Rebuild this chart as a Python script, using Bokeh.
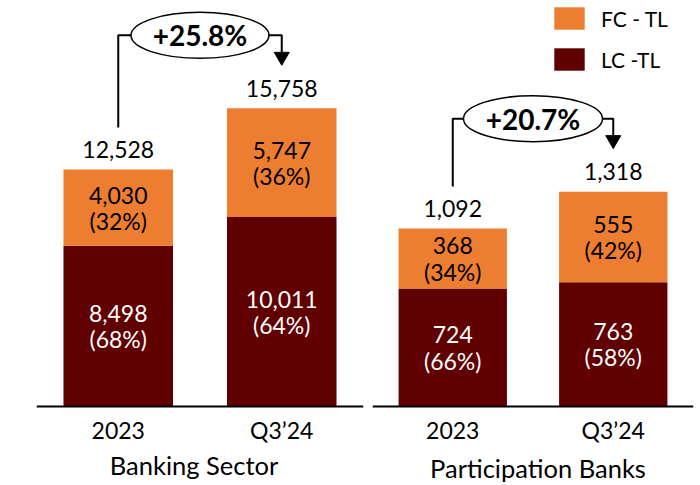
from bokeh.plotting import figure
from bokeh.layouts import row
from bokeh.models import Range1d, FactorRange, ColumnDataSource, Legend, LegendItem
from bokeh.core.properties import value
from bokeh.embed import file_html
from bokeh.resources import INLINE

# ---------------- data ----------------
categories = ["2023", "Q3\u201924"]

bank_lc = [8498, 10011]
bank_fc = [4030, 5747]
bank_total = [12528, 15758]
bank_lc_pct = [68, 64]
bank_fc_pct = [32, 36]
bank_growth = "+25.8%"

part_lc = [724, 763]
part_fc = [368, 555]
part_total = [1092, 1318]
part_lc_pct = [66, 58]
part_fc_pct = [34, 42]
part_growth = "+20.7%"

panel_titles = ["Banking Sector", "Participation Banks"]
series_names = ["FC - TL", "LC -TL"]

# ---------------- style ----------------
ORANGE = "#ED7D31"
MAROON = "#600000"
FONT = "Lato"
FIG_H = 485
AXIS_Y = 406          # screen y of the baseline
BELOW = FIG_H - AXIS_Y


def panel(lc, fc, total, lc_pct, fc_pct, growth, title, ppu, width,
          border_left, border_right, bar_w, ell_w, title_px, title_dx):
    u = lambda px: px / ppu  # screen px -> data units
    p = figure(x_range=FactorRange(*categories),
               y_range=Range1d(-BELOW / ppu, AXIS_Y / ppu),
               width=width, height=FIG_H, output_backend="svg", toolbar_location=None,
               y_axis_location=None, min_border_left=border_left,
               min_border_right=border_right, min_border_top=0,
               min_border_bottom=0)
    p.outline_line_color = None
    p.grid.visible = False
    p.background_fill_color = "white"

    src = ColumnDataSource(dict(x=categories, lc=lc, fc=fc))
    rs = p.vbar_stack(["lc", "fc"], x="x", width=bar_w, color=[MAROON, ORANGE],
                      line_color=None, source=src)

    # segment labels
    lc_mid = [v / 2 for v in lc]
    fc_mid = [a + b / 2 for a, b in zip(lc, fc)]
    p.text(x=categories, y=lc_mid,
           text=[f"{v:,}\n({q}%)" for v, q in zip(lc, lc_pct)],
           text_font=value(FONT), text_font_size="23px", text_color="white",
           text_align="center", text_baseline="middle", text_line_height=0.93)
    p.text(x=categories, y=fc_mid,
           text=[f"{v:,}\n({q}%)" for v, q in zip(fc, fc_pct)],
           text_font=value(FONT), text_font_size="23px", text_color="black",
           text_align="center", text_baseline="middle", text_line_height=0.93)
    # totals
    p.text(x=categories, y=[t + u(20) for t in total], text=[f"{t:,}" for t in total],
           text_font=value(FONT), text_font_size="23px", text_color="black",
           text_align="center", text_baseline="middle")

    # growth connector
    yc = max(total) + u(73)
    tip = total[1] + u(43)
    head_c = tip + u(8.7)
    p.line(x=[0.5, 0.5, 1.5, 1.5], y=[total[0] + u(42), yc, yc, head_c],
           line_color="black", line_width=2)
    p.scatter(x=[1.5], y=[head_c], marker="inverted_triangle", size=15,
              fill_color="black", line_color="black")
    p.ellipse(x=[1.0], y=[yc], width=ell_w, height=46, width_units="screen",
              height_units="screen", fill_color="white", line_color="black",
              line_width=1.5)
    p.text(x=[1.0], y=[yc], text=[growth], text_font=value(FONT),
           text_font_size="28px", text_font_style="bold", text_color="black",
           text_align="center", text_baseline="middle")

    # panel title below the category labels
    p.text(x=[1.0], y=[-u(title_px)], text=[title], text_font=value(FONT),
           text_font_size="25.5px", text_color="black", x_offset=title_dx,
           text_align="center", text_baseline="middle")

    ax = p.xaxis[0]
    ax.fixed_location = 0
    ax.axis_line_color = "black"
    ax.axis_line_width = 2
    ax.major_tick_line_color = None
    ax.minor_tick_line_color = None
    ax.major_label_text_font = FONT
    ax.major_label_text_font_size = "23px"
    ax.major_label_text_color = "black"
    ax.major_label_standoff = 3
    return p, rs


left, _ = panel(bank_lc, bank_fc, bank_total, bank_lc_pct, bank_fc_pct, bank_growth,
                panel_titles[0], 0.01892, 367, 36, 4, 0.67, 138, 58, -6)
right, rs = panel(part_lc, part_fc, part_total, part_lc_pct, part_fc_pct, part_growth,
                  panel_titles[1], 0.163, 331, 5, 5, 0.675, 139, 61, 5)

legend = Legend(items=[LegendItem(label=series_names[0], renderers=[rs[1]]),
                       LegendItem(label=series_names[1], renderers=[rs[0]])],
                location=(178, FIG_H - 73), glyph_width=38, glyph_height=28,
                spacing=13, padding=0, margin=0, label_standoff=13,
                label_text_font=FONT, label_text_font_size="21px",
                label_text_color="black", border_line_color=None,
                background_fill_alpha=0)
right.add_layout(legend)

layout = row(left, right)
open("out.html", "w").write(file_html(layout, INLINE))
